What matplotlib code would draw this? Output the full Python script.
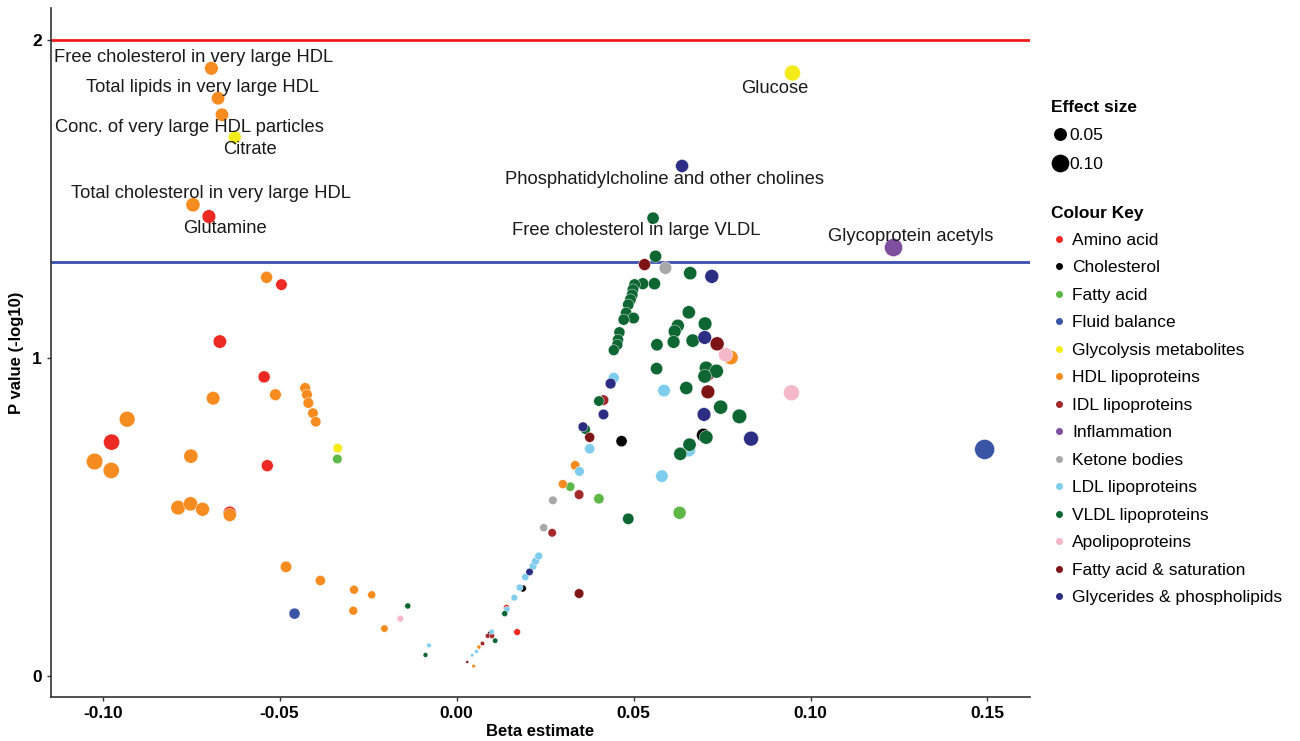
import matplotlib
matplotlib.use("Agg")
import matplotlib.pyplot as plt
from matplotlib.lines import Line2D
import numpy as np

plt.rcParams['font.family'] = ['Liberation Sans', 'DejaVu Sans']

# colour key (categories and their colours)
categories = ["Amino acid", "Cholesterol", "Fatty acid", "Fluid balance",
              "Glycolysis metabolites", "HDL lipoproteins", "IDL lipoproteins",
              "Inflammation", "Ketone bodies", "LDL lipoproteins", "VLDL lipoproteins",
              "Apolipoproteins", "Fatty acid & saturation", "Glycerides & phospholipids"]
colours = ["#EC2A23", "#000000", "#5DB847", "#3A55A6", "#F4EC1A", "#F68B1F",
           "#A3292D", "#7D4F9E", "#A8A8A8", "#7FCDEC", "#0E6632", "#F5B8C9",
           "#7E1416", "#2C2E83"]

# beta estimate, -log10 p, per category
amino_b = [-0.0700, -0.0495, -0.0669, -0.0544, -0.0975, -0.0535, -0.0641, 0.0171, 0.0141]
amino_p = [1.445, 1.231, 1.052, 0.941, 0.736, 0.662, 0.514, 0.139, 0.216]
chol_b = [0.0466, 0.0187, 0.0697, 0.0095]
chol_p = [0.739, 0.276, 0.758, 0.135]
fa_b = [-0.0337, 0.0321, 0.0402, 0.0630]
fa_p = [0.683, 0.596, 0.558, 0.514]
fluid_b = [-0.0458, 0.1492]
fluid_p = [0.197, 0.713]
glyc_b = [-0.0627, 0.0949, -0.0336]
glyc_p = [1.694, 1.896, 0.717]
hdl_b = [-0.0693, -0.0674, -0.0663, -0.0745, -0.0537, -0.0688, -0.0512, -0.0428,
         -0.0423, -0.0419, -0.0406, -0.0398, -0.0931, -0.1023, -0.0976, -0.0751,
         -0.0787, -0.0752, -0.0718, -0.0641, -0.0482, -0.0385, -0.0290, -0.0240,
         -0.0292, -0.0204, 0.0048, 0.0063, 0.0300, 0.0335, 0.0775]
hdl_p = [1.911, 1.817, 1.765, 1.482, 1.254, 0.874, 0.885, 0.906,
         0.885, 0.859, 0.827, 0.800, 0.808, 0.675, 0.647, 0.692,
         0.530, 0.542, 0.525, 0.507, 0.344, 0.301, 0.272, 0.256,
         0.206, 0.150, 0.032, 0.092, 0.604, 0.663, 1.002]
idl_b = [0.0073, 0.0088, 0.0100, 0.0270, 0.0346, 0.0415, 0.0710]
idl_p = [0.103, 0.127, 0.127, 0.451, 0.571, 0.868, 0.950]
infl_b = [0.1233]
infl_p = [1.349]
ket_b = [0.0590, 0.0246, 0.0272]
ket_p = [1.283, 0.467, 0.553]
ldl_b = [0.0044, 0.0056, 0.0099, 0.0142, 0.0163, 0.0178, 0.0194, 0.0216, 0.0223,
         0.0232, 0.0347, 0.0376, 0.0376, 0.0444, 0.0580, 0.0586, 0.0656, 0.0656,
         -0.0078]
ldl_p = [0.066, 0.078, 0.140, 0.210, 0.247, 0.279, 0.312, 0.346, 0.362,
         0.378, 0.644, 0.715, 0.715, 0.938, 0.629, 0.898, 0.710, 0.711,
         0.097]
vldl_b = [0.0555, 0.0562, 0.0660, 0.0559, 0.0526, 0.0503, 0.0498, 0.0496, 0.0491,
          0.0485, 0.0479, 0.0500, 0.0472, 0.0460, 0.0456, 0.0454, 0.0444, 0.0656,
          0.0702, 0.0625, 0.0616, 0.0613, 0.0667, 0.0566, 0.0565, 0.0705, 0.0734,
          0.0701, 0.0649, 0.0402, 0.0746, 0.0799, 0.0364, 0.0705, 0.0658, 0.0632,
          0.0632, 0.0485, 0.0136, 0.0109, -0.0138, -0.0088]
vldl_p = [1.440, 1.320, 1.267, 1.234, 1.234, 1.231, 1.215, 1.199, 1.184,
          1.168, 1.142, 1.126, 1.121, 1.081, 1.058, 1.042, 1.025, 1.144,
          1.108, 1.102, 1.084, 1.051, 1.055, 1.042, 0.967, 0.969, 0.959,
          0.943, 0.906, 0.865, 0.846, 0.817, 0.776, 0.751, 0.728, 0.700,
          0.699, 0.495, 0.197, 0.112, 0.221, 0.067]
apo_b = [-0.0159, 0.0760, 0.0946]
apo_p = [0.181, 1.011, 0.891]
fasat_b = [0.0531, 0.0736, 0.0710, 0.0346, 0.0030, 0.0376]
fasat_p = [1.294, 1.045, 0.894, 0.260, 0.045, 0.751]
glyph_b = [0.0637, 0.0721, 0.0701, 0.0435, 0.0415, 0.0699, 0.0357, 0.0832, 0.0206]
glyph_p = [1.604, 1.257, 1.065, 0.920, 0.823, 0.823, 0.784, 0.747, 0.328]

betas = [amino_b, chol_b, fa_b, fluid_b, glyc_b, hdl_b, idl_b, infl_b, ket_b,
         ldl_b, vldl_b, apo_b, fasat_b, glyph_b]
pvals = [amino_p, chol_p, fa_p, fluid_p, glyc_p, hdl_p, idl_p, infl_p, ket_p,
         ldl_p, vldl_p, apo_p, fasat_p, glyph_p]

# labelled metabolites
label_text = ["Free cholesterol in very large HDL", "Total lipids in very large HDL",
              "Conc. of very large HDL particles", "Citrate",
              "Total cholesterol in very large HDL", "Glutamine", "Glucose",
              "Phosphatidylcholine and other cholines", "Free cholesterol in large VLDL",
              "Glycoprotein acetyls"]
label_x = [-0.0743, -0.0719, -0.0756, -0.0583, -0.0693, -0.0655, 0.0898, 0.0586, 0.0508, 0.1283]
label_y = [1.946, 1.850, 1.726, 1.657, 1.516, 1.406, 1.849, 1.560, 1.400, 1.382]

legend_sizes = [0.05, 0.10]


def size_of(b):
    # point area proportional to absolute effect size
    return 1380 * np.abs(np.asarray(b))


fig = plt.figure(figsize=(13, 7.41), dpi=100)
ax = fig.add_axes([0.039, 0.059, 0.753, 0.930])

for b, p, c in zip(betas, pvals, colours):
    ax.scatter(b, p, s=size_of(b), color=c, edgecolors="white", linewidths=0.3, zorder=3)

ax.axhline(2, color="#EE1C1C", lw=2, zorder=2)
ax.axhline(-np.log10(0.05), color="#3A4FB0", lw=2, zorder=2)

for t, x, y in zip(label_text, label_x, label_y):
    ax.text(x, y, t, ha="center", va="center", fontsize=13.2, color="#1a1a1a", zorder=4)

ax.set_xlim(-0.1147, 0.1619)
ax.set_ylim(-0.066, 2.10)
ax.set_xticks([-0.10, -0.05, 0.00, 0.05, 0.10, 0.15])
ax.set_xticklabels(["-0.10", "-0.05", "0.00", "0.05", "0.10", "0.15"])
ax.set_yticks([0, 1, 2])
ax.tick_params(axis="both", labelsize=12.5, color="#333333", length=3, width=1)
for lab in ax.get_xticklabels() + ax.get_yticklabels():
    lab.set_fontweight("bold")
ax.set_xlabel("Beta estimate", fontsize=12, fontweight="bold", labelpad=2)
ax.set_ylabel("P value (-log10)", fontsize=12, fontweight="bold", labelpad=6)
ax.spines["top"].set_visible(False)
ax.spines["right"].set_visible(False)
ax.spines["left"].set_color("#333333")
ax.spines["bottom"].set_color("#333333")
ax.spines["left"].set_linewidth(1.2)
ax.spines["bottom"].set_linewidth(1.2)

# legends
size_handles = [Line2D([], [], ls="", marker="o", color="black",
                       markersize=np.sqrt(size_of(v))) for v in legend_sizes]
leg1 = fig.legend(size_handles, ["%.2f" % v for v in legend_sizes], title="Effect size",
                  loc="upper left", bbox_to_anchor=(0.8035, 0.874), frameon=False,
                  fontsize=12.5, title_fontproperties={"weight": "bold", "size": 12.5},
                  handletextpad=0.05, handlelength=1.0, labelspacing=0.75,
                  alignment="left", borderaxespad=0)

col_handles = [Line2D([], [], ls="", marker="o", color=c, markersize=4) for c in colours]
leg2 = fig.legend(col_handles, categories, title="Colour Key",
                  loc="upper left", bbox_to_anchor=(0.8035, 0.732), frameon=False,
                  fontsize=12.5, title_fontproperties={"weight": "bold", "size": 12.5},
                  handletextpad=0.3, handlelength=0.9, labelspacing=0.71,
                  alignment="left", borderaxespad=0)

fig.savefig("out.png", dpi=100)
